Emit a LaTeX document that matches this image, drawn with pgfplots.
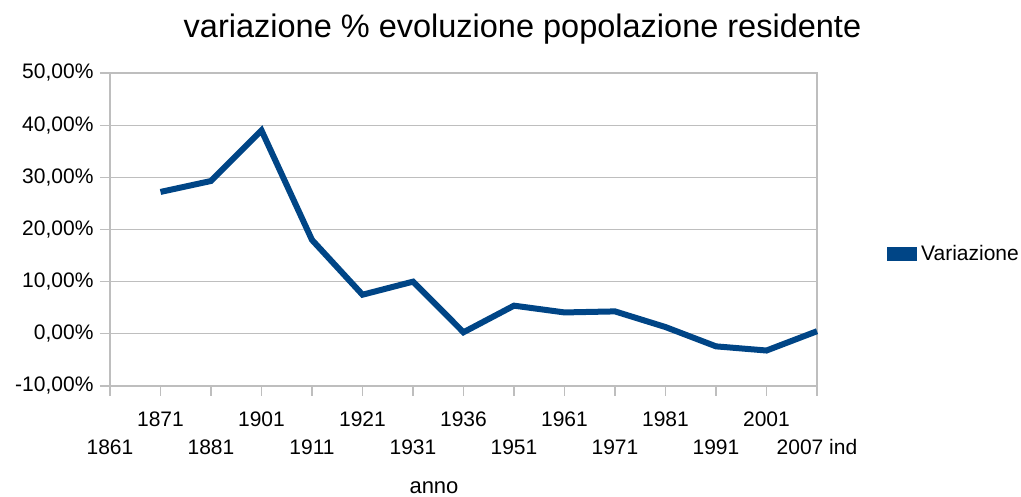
\documentclass[border=0pt]{standalone}
\usepackage{fontspec}
\setmainfont{Liberation Sans}
\usepackage{pgfplots}
\pgfplotsset{compat=1.18}
\definecolor{serieblue}{RGB}{0,69,134}
\definecolor{gridgray}{RGB}{190,190,190}

\newcommand{\tickfont}{\fontsize{21}{25}\selectfont}

\begin{document}
\begin{tikzpicture}[x=1pt,y=1pt]
\useasboundingbox (0,0) rectangle (1021,497);

\begin{axis}[
  at={(110pt,111pt)}, anchor=south west,
  scale only axis,
  width=707pt, height=313pt,
  xmin=0, xmax=14,
  ymin=-10, ymax=50,
  axis line style={gridgray, line width=1.2pt},
  ytick={-10,0,10,20,30,40,50},
  yticklabels={{-10,00\%},{0,00\%},{10,00\%},{20,00\%},{30,00\%},{40,00\%},{50,00\%}},
  ymajorgrids, grid style={gridgray, line width=1.2pt},
  xtick={1,3,5,7,9,11,13},
  xticklabels={1871,1901,1921,1936,1961,1981,2001},
  extra x ticks={0,2,4,6,8,10,12,14},
  extra x tick labels={1861,1881,1911,1931,1951,1971,1991,2007 ind},
  extra x tick style={xticklabel style={yshift=-28pt}},
  tick align=outside, major tick length=10pt,
  tick style={gridgray, line width=1.2pt},
  xtick pos=bottom, ytick pos=left,
  xticklabel style={font=\tickfont, anchor=base, yshift=-31pt},
  yticklabel style={font=\tickfont, xshift=-3pt},
  legend style={draw=none, fill=none, at={(axis description cs:1.099,0.4217)},
    anchor=west, inner sep=0pt, column sep=4pt, font=\tickfont,
    nodes={inner sep=0pt}},
  legend cell align=left,
  legend image code/.code={\fill[serieblue] (0pt,-4pt) rectangle (24pt,4pt);},
  clip=false,
]
\addplot[serieblue, line width=6pt, line join=miter] coordinates {
  (1,27.2)(2,29.3)(3,39.0)(4,18.0)(5,7.5)(6,10.0)(7,0.3)
  (8,5.4)(9,4.1)(10,4.3)(11,1.3)(12,-2.4)(13,-3.2)(14,0.5)};
\addlegendentry{Variazione}
\end{axis}

\node[anchor=base, font=\fontsize{32.5}{38}\selectfont, inner sep=0pt] at (522.5,459.7)
  {variazione \% evoluzione popolazione residente};
\node[anchor=base, font=\fontsize{22}{26}\selectfont, inner sep=0pt] at (434,3) {anno};
\end{tikzpicture}
\end{document}
